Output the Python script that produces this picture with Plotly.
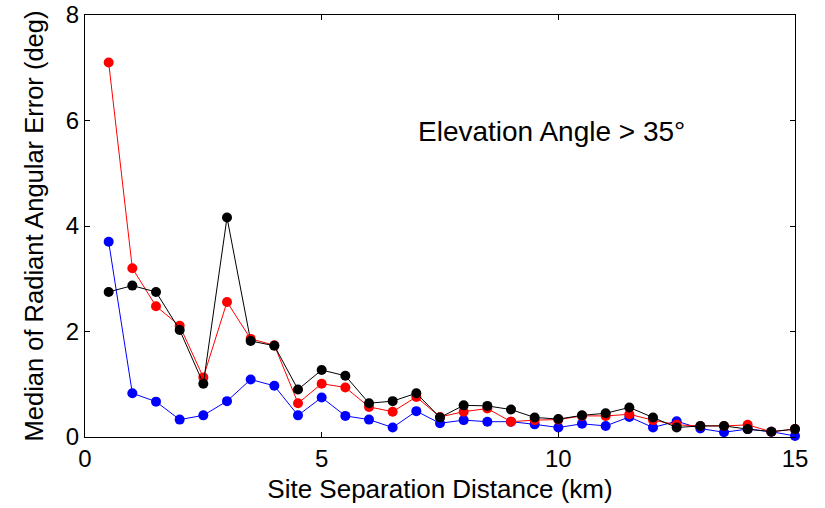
import plotly.graph_objects as go

dist = [0.5, 1, 1.5, 2, 2.5, 3, 3.5, 4, 4.5, 5, 5.5, 6, 6.5, 7, 7.5,
        8, 8.5, 9, 9.5, 10, 10.5, 11, 11.5, 12, 12.5, 13, 13.5, 14, 14.5, 15]

blue = [3.70, 0.83, 0.67, 0.33, 0.41, 0.68, 1.09, 0.97, 0.41, 0.75,
        0.40, 0.33, 0.18, 0.49, 0.26, 0.32, 0.29, 0.29, 0.24, 0.18,
        0.25, 0.21, 0.38, 0.18, 0.30, 0.16, 0.09, 0.15, 0.10, 0.02]
red = [7.10, 3.20, 2.48, 2.11, 1.13, 2.56, 1.86, 1.74, 0.64, 1.01,
       0.94, 0.57, 0.48, 0.76, 0.38, 0.48, 0.54, 0.29, 0.32, 0.33,
       0.40, 0.40, 0.43, 0.32, 0.23, 0.21, 0.21, 0.23, 0.10, 0.15]
black = [2.75, 2.87, 2.75, 2.03, 1.01, 4.16, 1.82, 1.73, 0.90, 1.27,
         1.16, 0.64, 0.68, 0.83, 0.37, 0.60, 0.59, 0.52, 0.37, 0.34,
         0.41, 0.45, 0.56, 0.37, 0.18, 0.21, 0.21, 0.15, 0.10, 0.15]

x_ticks = [0, 5, 10, 15]
y_ticks = [0, 2, 4, 6, 8]

fig = go.Figure()
for vals, col in [(blue, "#0000ff"), (red, "#ff0000"), (black, "#000000")]:
    fig.add_trace(go.Scatter(
        x=dist, y=vals, mode="lines+markers",
        line=dict(color=col, width=1),
        marker=dict(color=col, size=10),
        showlegend=False, cliponaxis=False))

font = "Liberation Sans, Arial, sans-serif"
axis_common = dict(showgrid=False, zeroline=False, showline=True, linecolor="black",
                   linewidth=1, mirror="ticks", ticks="inside", ticklen=5, automargin=False,
                   tickcolor="black", tickfont=dict(family=font, size=24, color="black"))

fig.update_layout(
    width=825, height=508,
    margin=dict(l=85, r=30, t=15, b=71),
    plot_bgcolor="white", paper_bgcolor="white",
    font=dict(family=font, color="black"),
    xaxis=dict(range=[0, 15], tickvals=x_ticks,
               title=dict(text="Site Separation Distance (km)", font=dict(family=font, size=26), standoff=9),
               **axis_common),
    yaxis=dict(range=[0, 8], tickvals=y_ticks,
               title=dict(text="Median of Radiant Angular Error (deg)", font=dict(family=font, size=25.5), standoff=14),
               **axis_common),
    annotations=[dict(x=7.0, y=5.8, xref="x", yref="y", xanchor="left", yanchor="middle",
                      text="Elevation Angle > 35°", showarrow=False,
                      font=dict(family=font, size=28, color="black"))],
)

fig.write_html("out.html")
